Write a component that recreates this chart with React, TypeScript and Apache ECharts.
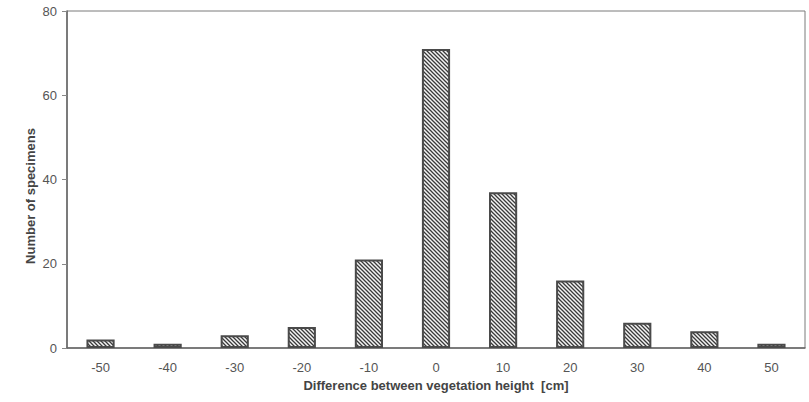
import React, { useEffect, useRef } from "react";
import * as echarts from "echarts";

const categories = ["-50", "-40", "-30", "-20", "-10", "0", "10", "20", "30", "40", "50"];
const specimens = [2, 1, 3, 5, 21, 71, 37, 16, 6, 4, 1];
const yTicks = { min: 0, max: 80, interval: 20 };
const xTitle = "Difference between vegetation height  [cm]";
const yTitle = "Number of specimens";

function makeHatch(): HTMLCanvasElement {
  const c = document.createElement("canvas");
  c.width = 4;
  c.height = 4;
  const ctx = c.getContext("2d")!;
  ctx.fillStyle = "#f4f4f4";
  ctx.fillRect(0, 0, 4, 4);
  ctx.strokeStyle = "#3a3a3a";
  ctx.lineWidth = 1.3;
  ctx.beginPath();
  ctx.moveTo(-1, -1);
  ctx.lineTo(5, 5);
  ctx.moveTo(-1, 3);
  ctx.lineTo(1, 5);
  ctx.moveTo(3, -1);
  ctx.lineTo(5, 1);
  ctx.stroke();
  return c;
}

export default function App() {
  const ref = useRef<HTMLDivElement>(null);
  useEffect(() => {
    if (!ref.current) return;
    const chart = echarts.init(ref.current, null, { renderer: "svg" });
    const font = "'Liberation Sans', Arial, sans-serif";
    chart.setOption({
      animation: false,
      backgroundColor: "#ffffff",
      grid: {
        left: 67,
        right: 4,
        top: 11,
        bottom: 54,
        show: true,
        borderColor: "#7a7a7a",
        borderWidth: 1,
      },
      graphic: [
        {
          type: "text",
          x: 30,
          y: 196,
          rotation: Math.PI / 2,
          style: {
            text: yTitle,
            fontFamily: font,
            fontSize: 13,
            fontWeight: "bold",
            fill: "#444",
            align: "center",
            verticalAlign: "middle",
          },
        },
      ],
      xAxis: {
        type: "category",
        data: categories,
        boundaryGap: true,
        name: xTitle,
        nameLocation: "middle",
        nameGap: 29,
        nameTextStyle: { fontFamily: font, fontSize: 13, fontWeight: "bold", color: "#444" },
        axisLine: { lineStyle: { color: "#666", width: 1.5 } },
        axisTick: { inside: true, length: 4, lineStyle: { color: "#888" } },
        axisLabel: { fontFamily: font, fontSize: 13, color: "#555", margin: 13 },
        splitLine: { show: false },
      },
      yAxis: {
        type: "value",
        min: yTicks.min,
        max: yTicks.max,
        interval: yTicks.interval,
        axisLine: { show: true, lineStyle: { color: "#666", width: 1.5 } },
        axisTick: { show: true, length: 5, lineStyle: { color: "#888" } },
        axisLabel: { fontFamily: font, fontSize: 13, color: "#555", margin: 10 },
        splitLine: { show: false },
      },
      series: [
        {
          type: "bar",
          data: specimens,
          barWidth: "42%",
          itemStyle: {
            color: { image: makeHatch(), repeat: "repeat" } as any,
            borderColor: "#4a4a4a",
            borderWidth: 2,
          },
        },
      ],
    });
    return () => chart.dispose();
  }, []);
  return <div ref={ref} style={{ width: 809, height: 402, position: "absolute", left: 0, top: 0 }} />;
}
